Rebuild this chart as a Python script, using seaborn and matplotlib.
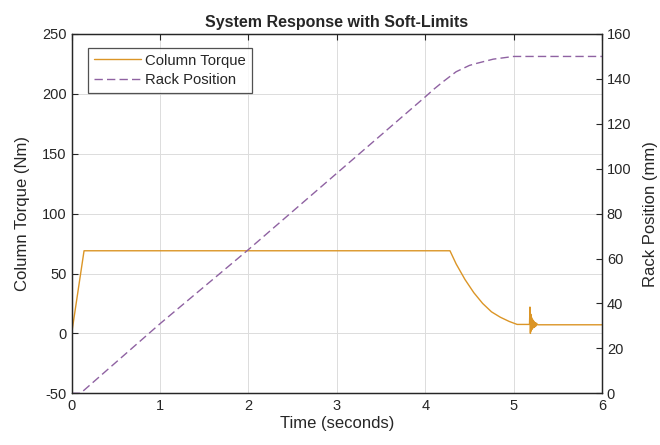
import numpy as np
import pandas as pd
import matplotlib
matplotlib.use("Agg")
import matplotlib.pyplot as plt
import seaborn as sns

# ---- data ----
torque_time = [0.0, 0.14, 4.28, 4.35, 4.45, 4.55, 4.65, 4.75, 4.85, 4.95, 5.04,
               5.18, 5.185, 5.19, 5.195, 5.20, 5.205, 5.21, 5.215, 5.22, 5.225,
               5.23, 5.235, 5.24, 5.245, 5.25, 5.26, 5.27, 6.0]
torque_nm = [0.0, 69.0, 69.0, 58.0, 45.0, 34.0, 25.0, 18.0, 13.5, 10.0, 7.5,
             7.5, 22.0, 0.0, 16.0, 2.0, 13.0, 3.5, 11.5, 4.5, 10.5,
             5.0, 9.5, 5.5, 9.0, 6.0, 8.5, 7.2, 7.2]

rack_time = [0.0, 0.1, 1.0, 2.0, 3.0, 4.0, 4.1, 4.2, 4.35, 4.5, 4.58, 4.77, 5.0, 6.0]
rack_mm = [0.0, 0.0, 31.0, 64.0, 98.0, 132.0, 135.5, 138.7, 143.2, 146.0, 146.9, 148.8, 150.0, 150.0]

x_ticks = [0, 1, 2, 3, 4, 5, 6]
left_ticks = [-50, 0, 50, 100, 150, 200, 250]
right_ticks = [0, 20, 40, 60, 80, 100, 120, 140, 160]

torque_df = pd.DataFrame({"Time": torque_time, "Torque": torque_nm})
rack_df = pd.DataFrame({"Time": rack_time, "Rack": rack_mm})

sns.set_style("white")
plt.rcParams["font.family"] = ["Liberation Sans", "DejaVu Sans"]
plt.rcParams["axes.unicode_minus"] = False

TXT = "#262626"
C_TORQUE = "#DB9526"
C_RACK = "#8F62A2"

fig = plt.figure(figsize=(6.6, 4.45), dpi=100)
ax = fig.add_axes([0.1086, 0.1162, 0.8035, 0.8074])
ax2 = ax.twinx()

sns.lineplot(data=torque_df, x="Time", y="Torque", ax=ax, color=C_TORQUE,
             linewidth=1.0, estimator=None, sort=False, label="Column Torque", legend=False)
sns.lineplot(data=rack_df, x="Time", y="Rack", ax=ax2, color=C_RACK,
             linewidth=1.0, estimator=None, sort=False, label="Rack Position", legend=False,
             linestyle=(0, (6, 3)))

ax.set_xlim(0, 6)
ax.set_ylim(-50, 250)
ax2.set_ylim(0, 160)
ax.set_xticks(x_ticks)
ax.set_yticks(left_ticks)
ax2.set_yticks(right_ticks)

ax.grid(True, color="#dcdcdc", linewidth=0.7)
ax.set_axisbelow(True)

for a in (ax, ax2):
    for s in a.spines.values():
        s.set_color(TXT)
        s.set_linewidth(0.9)
ax.tick_params(axis="both", direction="in", length=4, width=0.8, colors=TXT,
               labelsize=10.5, top=True, labelcolor=TXT)
ax2.tick_params(axis="y", direction="in", length=4, width=0.8, colors=TXT,
                labelsize=10.5, labelcolor=TXT)
ax.tick_params(axis="x", pad=4)

ax.set_xlabel("Time (seconds)", fontsize=12, color=TXT, labelpad=2)
ax.set_ylabel("Column Torque (Nm)", fontsize=12, color=TXT, labelpad=9)
ax2.set_ylabel("Rack Position (mm)", fontsize=12, color=TXT, labelpad=8)
ax.set_title("System Response with Soft-Limits", fontsize=11.5, fontweight="bold",
             color=TXT, pad=5)

h1, l1 = ax.get_legend_handles_labels()
h2, l2 = ax2.get_legend_handles_labels()
leg = ax2.legend(h1 + h2, l1 + l2, loc="upper left", bbox_to_anchor=(0.031, 0.962),
                 fontsize=10.7, frameon=True, fancybox=False, handlelength=3.15,
                 borderpad=0.4, labelspacing=0.35, handletextpad=0.3, borderaxespad=0)
leg.get_frame().set_edgecolor(TXT)
leg.get_frame().set_linewidth(0.9)
for t in leg.get_texts():
    t.set_color(TXT)

fig.savefig("out.png", dpi=100)
